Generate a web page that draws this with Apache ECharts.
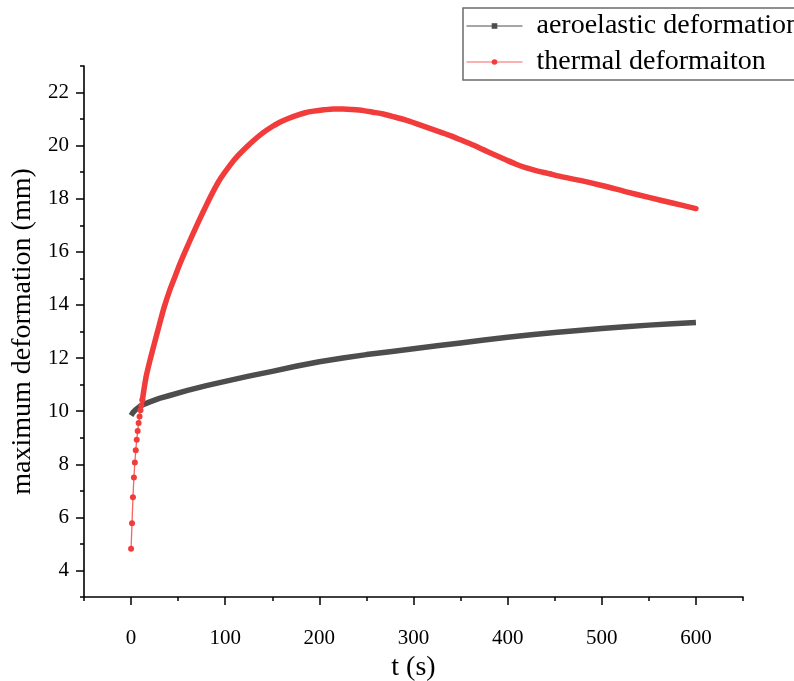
<!DOCTYPE html>
<html><head><meta charset="utf-8">
<script src="https://cdn.jsdelivr.net/npm/echarts@6/dist/echarts.min.js"></script>
<style>html,body{margin:0;padding:0;background:#fff}#c{width:794px;height:681px}</style>
</head><body><div id="c"></div>
<script>
const seriesNames = ['aeroelastic deformation', 'thermal deformaiton'];
const xTickLabels = [0, 100, 200, 300, 400, 500, 600];
const yTickLabels = [4, 6, 8, 10, 12, 14, 16, 18, 20, 22];

const aeroT = [0, 2, 5, 10, 20, 30, 40, 60, 80, 100, 125, 150, 175, 200, 225, 250, 275, 300, 325, 350, 375, 400, 425, 450, 475, 500, 525, 550, 575, 600];
const aeroV = [9.84, 9.95, 10.06, 10.2, 10.35, 10.48, 10.58, 10.78, 10.96, 11.12, 11.32, 11.5, 11.69, 11.86, 12.0, 12.13, 12.24, 12.35, 12.46, 12.57, 12.68, 12.78, 12.88, 12.96, 13.04, 13.11, 13.18, 13.24, 13.29, 13.34];

const thermEarlyT = [0, 1, 2, 3, 4, 5, 6, 7, 8, 9, 10, 11, 12];
const thermEarlyV = [4.82, 5.78, 6.76, 7.5, 8.07, 8.53, 8.92, 9.25, 9.55, 9.8, 10.03, 10.22, 10.42];

const thermT = [12, 16, 20, 24, 30, 35, 41, 47, 52, 59, 65, 73, 80, 87, 95, 105, 114, 123, 132, 140, 150, 158, 167, 176, 185, 194, 205, 215, 225, 235, 247, 257, 268, 280, 292, 303, 315, 327, 339, 350, 362, 374, 386, 398, 409, 420, 432, 441, 445];
const thermV = [10.42, 11.3, 11.9, 12.45, 13.25, 13.9, 14.55, 15.1, 15.56, 16.14, 16.62, 17.24, 17.76, 18.26, 18.76, 19.26, 19.64, 19.96, 20.25, 20.48, 20.72, 20.88, 21.02, 21.14, 21.24, 21.3, 21.35, 21.38, 21.38, 21.36, 21.32, 21.26, 21.19, 21.08, 20.96, 20.83, 20.68, 20.53, 20.38, 20.22, 20.04, 19.85, 19.66, 19.47, 19.3, 19.16, 19.04, 18.97, 18.94];

const thermLateT = [445, 455, 477, 500, 525, 550, 575, 600];
const thermLateV = [18.94, 18.85, 18.69, 18.5, 18.27, 18.05, 17.84, 17.63];

const pair = (t, v) => t.map((x, i) => [x, v[i]]);
const font = 'Liberation Serif';
const BLACK = '#4d4d4d', RED = '#f23c3c';

const chart = echarts.init(document.getElementById('c'), null, {renderer: 'canvas'});
const tickStyle = {color: '#000', width: 1.5};
const thickRed = {color: RED, width: 5.5, cap: 'round', join: 'round'};
chart.setOption({
  animation: false,
  tooltip: {show: false},
  grid: {left: 84, right: 51, top: 66, bottom: 84, outerBoundsMode: 'none', containLabel: false},
  legend: {
    orient: 'vertical', left: 463, top: 8, padding: [3, 0, 3, 3], itemGap: 6,
    itemWidth: 56, itemHeight: 7, borderColor: '#6b6b6b', borderWidth: 1.5,
    data: seriesNames, selectedMode: false,
    textStyle: {fontFamily: font, fontSize: 28, color: '#000', lineHeight: 30, padding: [0, 0, 0, 9]},
    lineStyle: {width: 1}
  },
  xAxis: [{
    type: 'value', min: -50, max: 650, interval: 50, position: 'bottom',
    axisLine: {show: true, onZero: false, lineStyle: {color: '#000', width: 1.6}},
    axisTick: {show: true, length: 4, lineStyle: tickStyle},
    axisLabel: {customValues: xTickLabels, fontFamily: font, fontSize: 21, color: '#000', margin: 31},
    splitLine: {show: false},
    name: 't (s)', nameLocation: 'middle', nameGap: 56,
    nameTextStyle: {fontFamily: font, fontSize: 28, color: '#000'}
  }, {
    type: 'value', min: -50, max: 650, interval: 50, position: 'bottom',
    axisLine: {show: false, onZero: false},
    axisTick: {show: true, customValues: xTickLabels, length: 8, lineStyle: tickStyle},
    axisLabel: {show: false}, splitLine: {show: false}
  }],
  yAxis: [{
    type: 'value', min: 3, max: 23, interval: 1, position: 'left',
    axisLine: {show: true, onZero: false, lineStyle: {color: '#000', width: 1.6}},
    axisTick: {show: true, length: 4, lineStyle: tickStyle},
    axisLabel: {customValues: yTickLabels, fontFamily: font, fontSize: 21, color: '#000', margin: 15},
    splitLine: {show: false},
    name: 'maximum deformation (mm)', nameLocation: 'middle', nameGap: 42,
    nameTextStyle: {fontFamily: font, fontSize: 28, color: '#000'}
  }, {
    type: 'value', min: 3, max: 23, interval: 1, position: 'left',
    axisLine: {show: false, onZero: false},
    axisTick: {show: true, customValues: yTickLabels, length: 8, lineStyle: tickStyle},
    axisLabel: {show: false}, splitLine: {show: false}
  }],
  series: [{
    name: seriesNames[0], type: 'line', data: pair(aeroT, aeroV),
    symbol: 'rect', symbolSize: 6, showSymbol: false, silent: true,
    color: BLACK, itemStyle: {color: BLACK},
    lineStyle: {color: BLACK, width: 5.5, cap: 'butt', join: 'round'}
  }, {
    name: seriesNames[1], type: 'line', data: pair(thermEarlyT, thermEarlyV),
    symbol: 'circle', symbolSize: 6, showSymbol: true, silent: true,
    color: RED, itemStyle: {color: RED},
    lineStyle: {color: RED, width: 1.3, opacity: 0.8}
  }, {
    name: seriesNames[1], type: 'line', data: pair(thermT, thermV),
    symbol: 'none', silent: true, smooth: 0.3,
    color: RED, itemStyle: {color: RED}, lineStyle: thickRed
  }, {
    name: seriesNames[1], type: 'line', data: pair(thermLateT, thermLateV),
    symbol: 'none', silent: true, smooth: 0.3,
    color: RED, itemStyle: {color: RED}, lineStyle: thickRed
  }]
});
</script></body></html>
